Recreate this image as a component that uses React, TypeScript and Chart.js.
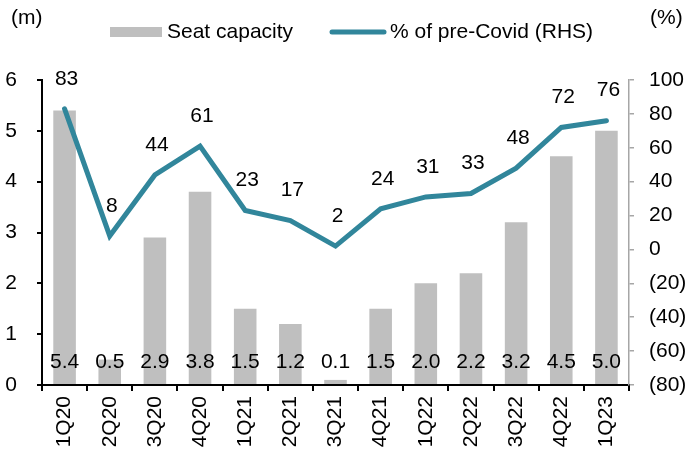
import React, { useEffect, useRef } from "react";
import { Chart, registerables } from "chart.js";

Chart.register(...registerables);

const categories = ["1Q20","2Q20","3Q20","4Q20","1Q21","2Q21","3Q21","4Q21","1Q22","2Q22","3Q22","4Q22","1Q23"];
const seatCapacity = [5.4, 0.5, 2.9, 3.8, 1.5, 1.2, 0.1, 1.5, 2.0, 2.2, 3.2, 4.5, 5.0];
const pctPreCovid = [83, 8, 44, 61, 23, 17, 2, 24, 31, 33, 48, 72, 76];
const leftTicks = [0, 1, 2, 3, 4, 5, 6];
const rightTicks = [-80, -60, -40, -20, 0, 20, 40, 60, 80, 100];

const FONT = "'Liberation Sans', Arial, sans-serif";
const FS = 21;
const BAR_COLOR = "#BFBFBF";
const LINE_COLOR = "#31869B";

const labelPlugin = {
  id: "customLabels",
  afterDatasetsDraw(chart: any) {
    const ctx = chart.ctx;
    ctx.save();
    ctx.font = `${FS}px ${FONT}`;
    ctx.fillStyle = "#000";
    ctx.textAlign = "center";
    ctx.textBaseline = "middle";
    const barMeta = chart.getDatasetMeta(1);
    const y0 = chart.scales.y.getPixelForValue(0);
    barMeta.data.forEach((el: any, i: number) => {
      ctx.fillText(seatCapacity[i].toFixed(1), el.x, y0 - 23);
    });
    const lineMeta = chart.getDatasetMeta(0);
    lineMeta.data.forEach((el: any, i: number) => {
      ctx.fillText(String(pctPreCovid[i]), el.x + 2, el.y - 30);
    });
    ctx.restore();
  },
  afterDraw(chart: any) {
    const ctx = chart.ctx;
    ctx.save();
    ctx.font = `${FS}px ${FONT}`;
    ctx.fillStyle = "#000";
    ctx.textBaseline = "middle";
    ctx.textAlign = "left";
    ctx.fillText("(m)", 11, 18);
    ctx.fillText("(%)", 650, 18);
    // legend
    ctx.fillStyle = BAR_COLOR;
    ctx.fillRect(110, 27, 52, 10);
    ctx.fillStyle = "#000";
    ctx.fillText("Seat capacity", 167, 32);
    ctx.strokeStyle = LINE_COLOR;
    ctx.lineWidth = 5;
    ctx.lineCap = "round";
    ctx.beginPath();
    ctx.moveTo(332, 32);
    ctx.lineTo(384, 32);
    ctx.stroke();
    ctx.fillText("% of pre-Covid (RHS)", 390, 32);
    ctx.restore();
  },
};

export default function App() {
  const ref = useRef<HTMLCanvasElement | null>(null);
  useEffect(() => {
    if (!ref.current) return;
    const chart = new Chart(ref.current, {
      type: "bar",
      data: {
        labels: categories,
        datasets: [
          {
            type: "line",
            label: "% of pre-Covid (RHS)",
            data: pctPreCovid,
            yAxisID: "y1",
            borderColor: LINE_COLOR,
            backgroundColor: LINE_COLOR,
            borderWidth: 5,
            borderCapStyle: "round",
            borderJoinStyle: "miter",
            pointRadius: 0,
            tension: 0,
            order: 0,
          } as any,
          {
            type: "bar",
            label: "Seat capacity",
            data: seatCapacity,
            yAxisID: "y",
            backgroundColor: BAR_COLOR,
            borderWidth: 0,
            categoryPercentage: 1,
            barPercentage: 0.5,
            order: 1,
          } as any,
        ],
      },
      options: {
        animation: false,
        responsive: false,
        layout: { padding: { top: 80, left: 0, right: 0, bottom: 0 } },
        plugins: { legend: { display: false }, tooltip: { enabled: false } },
        scales: {
          x: {
            offset: true,
            grid: { offset: true, drawOnChartArea: false, drawTicks: true, tickLength: 6, color: "#000", lineWidth: 2 },
            border: { display: true, color: "#000", width: 2 },
            ticks: {
              font: { family: FONT, size: FS },
              color: "#000",
              maxRotation: 90,
              minRotation: 90,
              autoSkip: false,
              padding: 5,
            },
            afterFit(scale: any) { scale.height = 70; },
          },
          y: {
            position: "left",
            min: 0,
            max: 6,
            afterBuildTicks(scale: any) { scale.ticks = leftTicks.map((v) => ({ value: v })); },
            grid: { drawOnChartArea: false, drawTicks: true, tickLength: 5, color: "#000", lineWidth: 2 },
            border: { display: true, color: "#000", width: 2 },
            ticks: { font: { family: FONT, size: FS }, color: "#000", padding: 20 },
            afterFit(scale: any) { scale.width = 42; },
          },
          y1: {
            position: "right",
            min: -80,
            max: 100,
            afterBuildTicks(scale: any) { scale.ticks = rightTicks.map((v) => ({ value: v })); },
            grid: { drawOnChartArea: false, drawTicks: true, tickLength: 5, color: "#A6A6A6", lineWidth: 1.5 },
            border: { display: true, color: "#A6A6A6", width: 1.5 },
            ticks: {
              font: { family: FONT, size: FS },
              color: "#000",
              padding: 15,
              callback: (v: any) => (Number(v) < 0 ? `(${-Number(v)})` : String(v)),
            },
            afterFit(scale: any) { scale.width = 57; },
          },
        },
      } as any,
      plugins: [labelPlugin],
    });
    return () => chart.destroy();
  }, []);
  return (
    <div style={{ position: "fixed", left: 0, top: 0, width: 686, height: 455, background: "#fff" }}>
      <canvas ref={ref} width={686} height={455} />
    </div>
  );
}
